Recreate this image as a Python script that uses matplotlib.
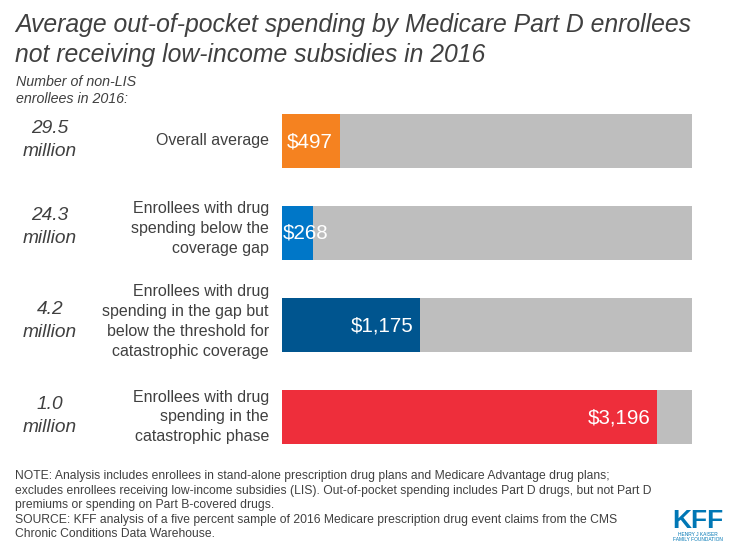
import matplotlib.pyplot as plt

plt.rcParams['font.family'] = ['Liberation Sans', 'DejaVu Sans']

# Data
categories = [
    "Overall average",
    "Enrollees with drug\nspending below the\ncoverage gap",
    "Enrollees with drug\nspending in the gap but\nbelow the threshold for\ncatastrophic coverage",
    "Enrollees with drug\nspending in the\ncatastrophic phase",
]
enrollees = ["29.5\nmillion", "24.3\nmillion", "4.2\nmillion", "1.0\nmillion"]
spending = [497, 268, 1175, 3196]
value_labels = ["$497", "$268", "$1,175", "$3,196"]
bar_colors = ["#F58220", "#0077C8", "#00558F", "#EE2E3B"]
axis_max = 3495

title = ("Average out-of-pocket spending by Medicare Part D enrollees\n"
         "not receiving low-income subsidies in 2016")
enrollee_head = "Number of non-LIS\nenrollees in 2016:"
note = ("NOTE: Analysis includes enrollees in stand-alone prescription drug plans and Medicare Advantage drug plans;\n"
        "excludes enrollees receiving low-income subsidies (LIS). Out-of-pocket spending includes Part D drugs, but not Part D\n"
        "premiums or spending on Part B-covered drugs.\n"
        "SOURCE: KFF analysis of a five percent sample of 2016 Medicare prescription drug event claims from the CMS\n"
        "Chronic Conditions Data Warehouse.")

W, H = 735, 551
TEXT = "#404040"
BLUE = "#0077B5"

fig = plt.figure(figsize=(W / 100, H / 100), dpi=100)

def px(x, y):
    """Pixel position from the top left to figure fraction."""
    return x / W, 1 - y / H

# Bars take up pixels 282-692 across, 95-463 down (one slot = 92 px)
ax = fig.add_axes([282 / W, 1 - 463 / H, 410 / W, 368 / H])
rows = list(range(len(spending)))
ax.barh(rows, [axis_max] * 4, height=54 / 92, color="#BEBEBE")
ax.barh(rows, spending, height=54 / 92, color=bar_colors)
ax.set_xlim(0, axis_max)
ax.set_ylim(3.5, -0.5)
ax.axis("off")

# Value labels
label_right = [333, 328, 414, 651]
for i, lab in enumerate(value_labels):
    x, y = px(label_right[i], 141.5 + 92 * i)
    fig.text(x, y, lab, color="white", fontsize=14.8, ha="right", va="center")

# Category and enrollee columns, text blocks are not evenly spaced in the original
cat_y = [140, 228.5, 321.5, 417]
enrollee_y = [140, 227, 321, 416]
for i, (cat, n) in enumerate(zip(categories, enrollees)):
    x, y = px(269, cat_y[i])
    fig.text(x, y, cat, color=TEXT, fontsize=11.5, ha="right", va="center", linespacing=1.4)
    x, y = px(50, enrollee_y[i])
    fig.text(x, y, n, color=TEXT, fontsize=13.8, style="italic", ha="center", va="center",
             linespacing=1.42)

x, y = px(15, 13)
fig.text(x, y, title, color=TEXT, fontsize=17.8, style="italic", ha="left", va="top", linespacing=1.31)
x, y = px(16, 74.5)
fig.text(x, y, enrollee_head, color=TEXT, fontsize=10.3, style="italic", ha="left", va="top", linespacing=1.32)
x, y = px(15, 470)
fig.text(x, y, note, color=TEXT, fontsize=8.76, ha="left", va="top", linespacing=1.28)

# KFF logo
x, y = px(698, 528)
fig.text(x, y, "KFF", color=BLUE, fontsize=19, fontweight="bold", ha="center", va="baseline")
x, y = px(698, 537)
fig.text(x, y, "HENRY J KAISER\nFAMILY FOUNDATION", color=BLUE, fontsize=3.5, ha="center", va="center",
         linespacing=1.0)

fig.savefig("out.png", dpi=100)
plt.close()
